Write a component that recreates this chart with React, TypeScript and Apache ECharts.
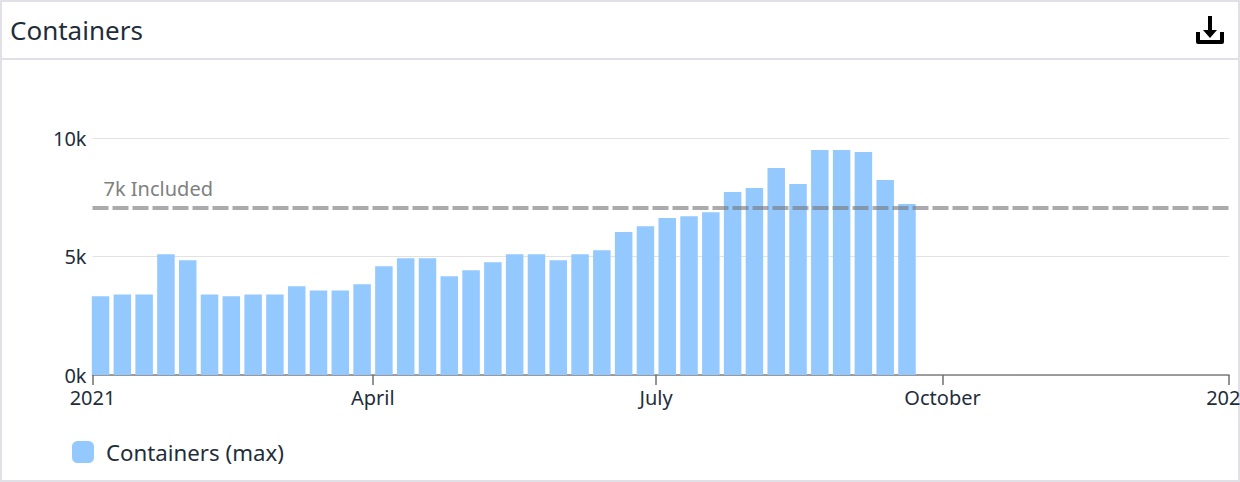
import React, { useEffect, useRef } from "react";
import * as echarts from "echarts";

const titleText = "Containers";
const seriesName = "Containers (max)";
const thresholdLabel = "7k Included";
const thresholdValue = 7040;

const weekDates = [
  "2021-01-03T14:00Z", "2021-01-10T14:00Z", "2021-01-17T14:00Z", "2021-01-24T14:00Z", "2021-01-31T14:00Z",
  "2021-02-07T14:00Z", "2021-02-14T14:00Z", "2021-02-21T14:00Z", "2021-02-28T14:00Z", "2021-03-07T14:00Z",
  "2021-03-14T14:00Z", "2021-03-21T14:00Z", "2021-03-28T14:00Z", "2021-04-04T14:00Z", "2021-04-11T14:00Z",
  "2021-04-18T14:00Z", "2021-04-25T14:00Z", "2021-05-02T14:00Z", "2021-05-09T14:00Z", "2021-05-16T14:00Z",
  "2021-05-23T14:00Z", "2021-05-30T14:00Z", "2021-06-06T14:00Z", "2021-06-13T14:00Z", "2021-06-20T14:00Z",
  "2021-06-27T14:00Z", "2021-07-04T14:00Z", "2021-07-11T14:00Z", "2021-07-18T14:00Z", "2021-07-25T14:00Z",
  "2021-08-01T14:00Z", "2021-08-08T14:00Z", "2021-08-15T14:00Z", "2021-08-22T14:00Z", "2021-08-29T14:00Z",
  "2021-09-05T14:00Z", "2021-09-12T14:00Z", "2021-09-19T14:00Z",
];
const containerValues = [
  3320, 3400, 3400, 5100, 4840, 3400, 3320, 3400, 3400, 3740,
  3570, 3570, 3830, 4590, 4930, 4930, 4170, 4420, 4760, 5100,
  5100, 4840, 5100, 5260, 6030, 6280, 6620, 6700, 6870, 7720,
  7890, 8730, 8060, 9490, 9490, 9410, 8230, 7210,
];
const xTickDates = ["2021-01-01T00:00Z", "2021-04-01T00:00Z", "2021-07-01T00:00Z", "2021-10-01T00:00Z", "2022-01-01T00:00Z"];
const xTickLabels = ["2021", "April", "July", "October", "2022"];

const downloadIcon =
  "M12 0 H16 V14 H21 L14 22 L7 14 H12 Z M0 16 H4 V24 H24 V16 H28 V26 A2 2 0 0 1 26 28 H2 A2 2 0 0 1 0 26 Z";

const ink = "#1f2d3a";
const frame = "#e0e0e6";

export default function App() {
  const ref = useRef<HTMLDivElement>(null);
  useEffect(() => {
    if (!ref.current) return;
    echarts.graphic.registerShape("downloadIcon", echarts.graphic.extendPath(downloadIcon as any, {}) as any);
    const chart = echarts.init(ref.current, undefined, { renderer: "svg" });
    const tickTimes = xTickDates.map((d) => Date.parse(d));
    chart.setOption({
      animation: false,
      backgroundColor: "#ffffff",
      textStyle: { fontFamily: "Noto Sans" },
      title: {
        text: titleText,
        left: 10,
        top: 17,
        padding: 0,
        textStyle: { fontFamily: "Noto Sans", fontSize: 26, fontWeight: 400, color: ink },
      },
      legend: {
        left: 72,
        top: 441,
        padding: 0,
        icon: "roundRect",
        itemWidth: 22,
        itemHeight: 22,
        itemStyle: { borderRadius: 4 },
        textStyle: { fontFamily: "Noto Sans", fontSize: 22.25, color: ink, padding: [0, 0, 2, 7] },
        data: [seriesName],
      },
      grid: { left: 92.5, right: 11, top: 138, bottom: 107, containLabel: false, outerBoundsMode: "none" },
      xAxis: {
        type: "value",
        min: tickTimes[0],
        max: tickTimes[tickTimes.length - 1],
        splitLine: { show: false },
        axisLine: { show: true, lineStyle: { color: "#808080", width: 1.5 } },
        axisTick: { show: true, length: 10, customValues: tickTimes, lineStyle: { color: "#707070", width: 1.5 } },
        axisLabel: {
          show: true,
          customValues: tickTimes,
          hideOverlap: false,
          margin: 12,
          fontFamily: "Noto Sans",
          fontSize: 20,
          color: ink,
          formatter: (v: number) => xTickLabels[tickTimes.indexOf(v)] ?? "",
        },
      },
      yAxis: {
        type: "value",
        min: 0,
        max: 10000,
        interval: 5000,
        axisLine: { show: false },
        axisTick: { show: false },
        splitLine: { show: true, lineStyle: { color: "#e2e2e2", width: 1 } },
        axisLabel: {
          margin: 6,
          padding: [0, 0, 2, 0],
          fontFamily: "Noto Sans",
          fontSize: 20,
          color: ink,
          formatter: (v: number) => `${v / 1000}k`,
        },
      },
      series: [
        {
          name: seriesName,
          type: "bar",
          barWidth: 17.5,
          itemStyle: { color: "#94c9ff" },
          data: weekDates.map((d, i) => [Date.parse(d), containerValues[i]]),
          markLine: {
            silent: true,
            symbol: "none",
            animation: false,
            lineStyle: { color: "rgba(120,120,125,0.62)", width: 4, type: [16, 4], cap: "butt" },
            label: {
              show: true,
              position: "insideStartTop",
              distance: [11, 10],
              formatter: thresholdLabel,
              fontFamily: "Noto Sans",
              fontSize: 20,
              color: "#808080",
            },
            data: [{ yAxis: thresholdValue }],
          },
        },
      ],
      graphic: [
        { type: "rect", left: 0, top: 0, shape: { width: 1240, height: 2 }, style: { fill: frame }, silent: true },
        { type: "rect", left: 0, top: 480, shape: { width: 1240, height: 2 }, style: { fill: frame }, silent: true },
        { type: "rect", left: 0, top: 0, shape: { width: 2, height: 482 }, style: { fill: frame }, silent: true },
        { type: "rect", left: 1238, top: 0, shape: { width: 2, height: 482 }, style: { fill: frame }, silent: true },
        { type: "rect", left: 0, top: 58, shape: { width: 1240, height: 2 }, style: { fill: frame }, silent: true },
        { type: "downloadIcon", x: 1196, y: 16, style: { fill: "#000000" }, silent: true },
      ],
    });
    return () => chart.dispose();
  }, []);
  return <div ref={ref} style={{ position: "fixed", left: 0, top: 0, width: 1240, height: 482, overflow: "hidden" }} />;
}
